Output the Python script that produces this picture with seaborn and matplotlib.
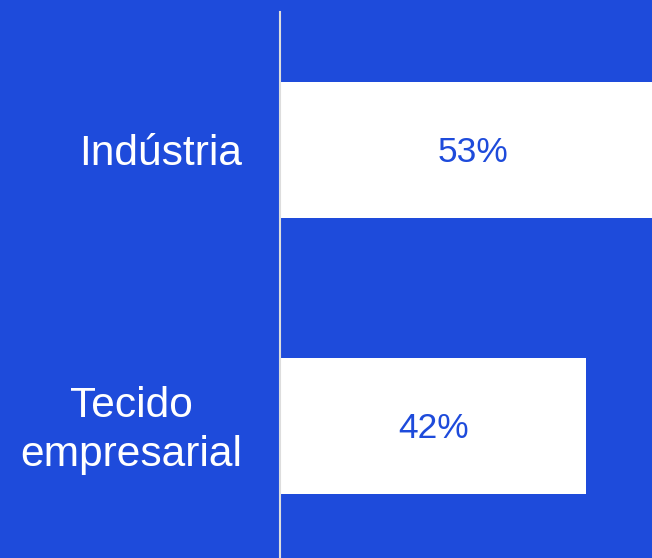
import matplotlib
matplotlib.use("Agg")
import matplotlib.pyplot as plt
import matplotlib.transforms as mtransforms
import seaborn as sns
import pandas as pd

categories = ["Indústria", "Tecido\nempresarial"]
values = [53, 42]
value_labels = ["53%", "42%"]

BG = "#1E4BDB"

sns.set_style("white")
plt.rcParams["font.family"] = ["Liberation Sans", "DejaVu Sans"]

df = pd.DataFrame({"cat": categories, "val": values})

fig = plt.figure(figsize=(6.52, 5.58), dpi=100, facecolor=BG)
ax = fig.add_axes([280 / 652, 0, 1 - 280 / 652, 1 - 12 / 558])
ax.set_facecolor(BG)

sns.barplot(data=df, x="val", y="cat", orient="h", color="white",
            width=0.493, saturation=1, ax=ax, edgecolor="none")

ax.set_xlim(0, 51)
ax.set_ylim(1.478, -0.5)

for i, (v, lab) in enumerate(zip(values, value_labels)):
    ax.text(v / 2, i + 0.045, lab, ha="center", va="baseline", color=BG, fontsize=25.5)

ax.set_xlabel("")
ax.set_ylabel("")
ax.set_xticks([])
ax.set_yticks(range(len(categories)))
ax.set_yticklabels(categories, color="white", fontsize=30.6,
                   multialignment="center", linespacing=1.3)
ax.tick_params(axis="y", length=0, pad=27)

shifts = [1, 5]  # pixels upward
for lbl, dy in zip(ax.get_yticklabels(), shifts):
    off = mtransforms.ScaledTranslation(0, dy / 100, fig.dpi_scale_trans)
    lbl.set_transform(lbl.get_transform() + off)

for s in ["top", "right", "bottom"]:
    ax.spines[s].set_visible(False)
ax.spines["left"].set_color("#DDDDDD")
ax.spines["left"].set_linewidth(1.5)

fig.savefig("out.png", dpi=100, facecolor=BG)
